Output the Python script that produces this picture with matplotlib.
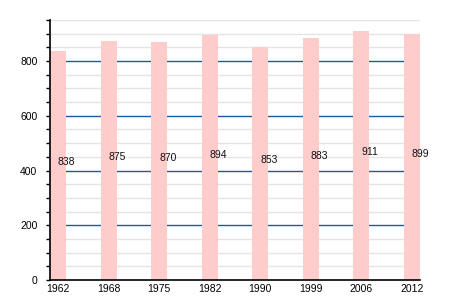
import matplotlib
matplotlib.use("Agg")
import matplotlib.pyplot as plt
import numpy as np

years = ["1962", "1968", "1975", "1982", "1990", "1999", "2006", "2012"]
population = [838, 875, 870, 894, 853, 883, 911, 899]

plt.rcParams['font.family'] = ['Liberation Sans', 'DejaVu Sans']

fig = plt.figure(figsize=(4.5, 3), dpi=100)
ax = fig.add_axes([50/450, 20/300, 370/450, 260/300])

x = np.arange(len(years))
ax.set_xlim(-0.16, len(years) - 1 + 0.16)
ax.set_ylim(0, 950)

# grid lines
for v in np.arange(50, 951, 50):
    if v % 200 == 0:
        ax.axhline(v, color='#1f5b9c', lw=1.0, zorder=1)
    else:
        ax.axhline(v, color='#e4e4e4', lw=1.0, zorder=1)

ax.bar(x, population, width=0.32, color='#ffcccc', zorder=2)

for xi, v in zip(x, population):
    ax.text(xi + 0.17, v / 2 + 11, str(v), ha='center', va='center', fontsize=7.5,
            color='#111111', zorder=3)

ax.set_xticks(x)
ax.set_xticklabels(years, fontsize=7.5)
ax.set_yticks(np.arange(0, 801, 200))
ax.set_yticks(np.arange(0, 951, 50), minor=True)
ax.tick_params(axis='y', labelsize=7.5, length=3, width=1, direction='out', pad=6)
ax.tick_params(axis='y', which='minor', length=3, width=1)
ax.tick_params(axis='x', length=0, pad=3)

for s in ['top', 'right']:
    ax.spines[s].set_visible(False)
ax.spines['left'].set_linewidth(1.2)
ax.spines['bottom'].set_linewidth(1.2)

fig.savefig("out.png", dpi=100)
